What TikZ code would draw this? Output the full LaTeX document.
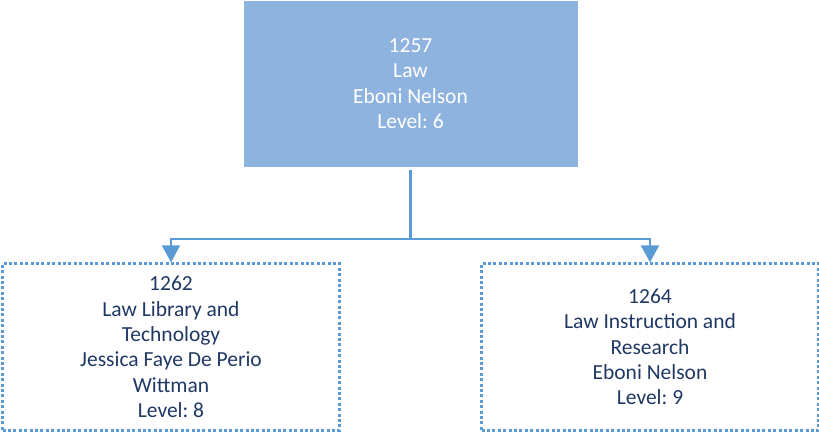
\documentclass[tikz,border=0pt]{standalone}
\usepackage{fontspec}
\setmainfont{Carlito}
\usepackage{xcolor}
\usetikzlibrary{arrows.meta}
\definecolor{topfill}{RGB}{143,179,223}
\definecolor{linecol}{RGB}{91,155,213}
\definecolor{textcol}{RGB}{31,56,100}
\frenchspacing

\tikzset{
  headbox/.style={fill=topfill,draw=topfill,minimum width=333pt,minimum height=165pt,
    text=white,align=center,font=\fontsize{21.5}{25.4}\selectfont,inner sep=0pt},
  unitbox/.style={draw=linecol,line width=2.4pt,dash pattern=on 3pt off 2.4pt,
    minimum width=337pt,minimum height=167pt,text=textcol,align=center,
    font=\fontsize{21.5}{25.4}\selectfont,inner sep=0pt},
  link/.style={draw=linecol,line width=2.4pt},
}

\begin{document}
\begin{tikzpicture}[x=1pt,y=-1pt]
\useasboundingbox (0,0) rectangle (819,435);
\node[headbox] (law) at (410.5,83.5) {1257\\Law\\Eboni Nelson\\Level: 6};
\node[unitbox] (lib) at (171,347) {1262\\Law Library and\\Technology\\Jessica Faye De Perio\\Wittman\\Level: 8};
\node[unitbox] (res) at (650,347) {1264\\Law Instruction and\\Research\\Eboni Nelson\\Level: 9};
\coordinate (split) at (410.5,239);
\draw[link,shorten <=4pt] (law.south) -- (split);
\draw[link,-{Triangle[width=18pt,length=17pt]}] (split) -| (lib.north);
\draw[link,-{Triangle[width=18pt,length=17pt]}] (split) -| (res.north);
\end{tikzpicture}
\end{document}
